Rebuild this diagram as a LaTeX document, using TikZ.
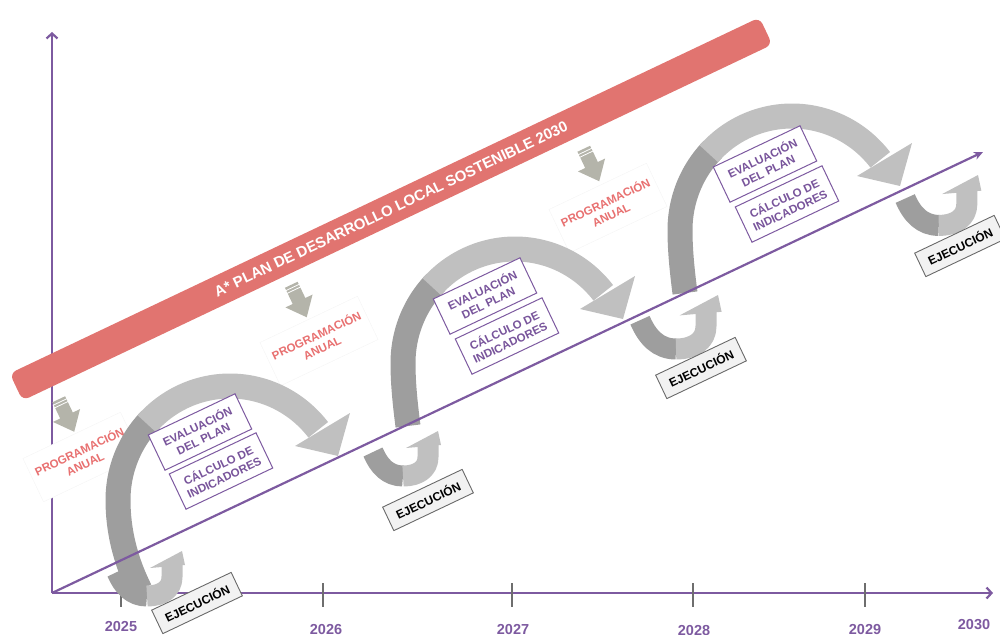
\documentclass[tikz,border=0pt]{standalone}
\usepackage{fontspec}
\setmainfont{Liberation Sans}
\usetikzlibrary{arrows.meta}
\definecolor{purp}{RGB}{125,90,160}
\definecolor{purptext}{RGB}{120,84,155}
\definecolor{bannerred}{RGB}{225,116,112}
\definecolor{progred}{RGB}{232,112,112}
\definecolor{arcdark}{RGB}{158,158,158}
\definecolor{arclight}{RGB}{192,192,192}
\definecolor{smallarrow}{RGB}{180,180,170}
\definecolor{ejefill}{RGB}{242,242,242}
\definecolor{ejedraw}{RGB}{105,105,105}
\definecolor{tickgray}{RGB}{110,110,110}

\newcommand{\UArrow}[3]{%
  \begin{scope}[shift={(#1,#2)},scale=#3]
    \draw[uband,draw=arcdark] (-65,21) .. controls (-59,35) and (-50,45) .. (-35,45);
    \draw[uband,draw=arclight] (-35,45) .. controls (-20,45) and (-10,38) .. (-10,26) -- (-10,14);
    \fill[arclight] (-32,17) -- (0,0) -- (3,14) -- cycle;
  \end{scope}}
% #1,#2 shift; #3 = 1 for a long column reaching down to the axis
\newcommand{\BigArc}[3]{%
  \begin{scope}[shift={(#1,#2)}]
    \ifnum#3=1
      \draw[bigband,draw=arcdark] (140,590) .. controls (125,560) and (118,530) .. (118,500)
        -- plot[domain=180:225,samples=25,variable=\t] ({230+112*cos(\t)},{500+114*sin(\t)});
    \else
      \draw[bigband,draw=arcdark] (123,563) .. controls (120,540) and (118,520) .. (118,500)
        -- plot[domain=180:225,samples=25,variable=\t] ({230+112*cos(\t)},{500+114*sin(\t)});
    \fi
    \draw[bigband,draw=arclight] plot[domain=222:322,samples=50,variable=\t] ({230+112*cos(\t)},{500+114*sin(\t)});
    \fill[arclight] (295,446) -- (338,456) -- (350,413) -- cycle;
  \end{scope}}
\newcommand{\ProgArrow}[2]{%
  \begin{scope}[shift={(#1,#2)},rotate=25.4]
    \fill[smallarrow] (-7,-18) -- (7,-18) -- (7,0) -- (15,0) -- (0,18) -- (-15,0) -- (-7,0) -- cycle;
    \draw[white,line width=0.8pt] (-8,-15) -- (8,-15) (-8,-12) -- (8,-12);
  \end{scope}}

\begin{document}
\begin{tikzpicture}[x=1pt,y=-1pt,
  axisline/.style={draw=purp,line width=2.2pt},
  tickline/.style={draw=tickgray,line width=1.8pt},
  bigband/.style={line width=25pt,line join=round},
  uband/.style={line width=21pt,line join=round},
  yearlbl/.style={text=purp,font=\fontsize{14.5}{16}\selectfont\bfseries,inner sep=0pt},
  bannerbox/.style={fill=bannerred,rounded corners=7pt,minimum width=830,minimum height=30,
    rotate=25.4,text=white,font=\fontsize{15}{18}\selectfont\bfseries,inner sep=0pt},
  progbox/.style={draw=black!4,fill=white,text=progred,font=\fontsize{11.5}{13.5}\selectfont\bfseries,
    align=center,minimum width=108,minimum height=48,rotate=25.4,inner sep=1pt},
  evalbox/.style={draw=purp,line width=1pt,fill=white,text=purptext,
    font=\fontsize{11.5}{13.5}\selectfont\bfseries,align=center,minimum width=96,minimum height=39,
    rotate=25.4,inner sep=1pt},
  ejebox/.style={draw=ejedraw,line width=0.9pt,fill=ejefill,text=black,
    font=\fontsize{12}{14}\selectfont\bfseries,minimum width=88,minimum height=26,rotate=25.4,inner sep=1pt}
]
\useasboundingbox (0,0) rectangle (1000,634);

% axes
\coordinate (O) at (52,593);
\coordinate (Ytop) at (52,32);
\coordinate (Xend) at (993,593);
\coordinate (Dend) at (983,152);
\draw[axisline,-{Straight Barb[length=5pt,width=11pt]}] (O) -- (Ytop);
\draw[axisline,-{Straight Barb[length=5pt,width=11pt]}] (O) -- (Xend);
\foreach \x/\n in {121/a,323/b,512/c,693/d,865/e}{
  \coordinate (t\n1) at (\x,583);
  \coordinate (t\n2) at (\x,607);
  \draw[tickline] (t\n1) -- (t\n2);
}
\node[yearlbl] (y2025) at (121,626) {2025};
\node[yearlbl] (y2026) at (326,629) {2026};
\node[yearlbl] (y2027) at (513,629) {2027};
\node[yearlbl] (y2028) at (694,630) {2028};
\node[yearlbl] (y2029) at (865,629) {2029};
\node[yearlbl] (y2030) at (974,625) {2030};

% banner
\node[bannerbox] (plan) at (391,209) {A* PLAN DE DESARROLLO LOCAL SOSTENIBLE 2030};

% programacion anual
\node[progbox] (prog1) at (82,457) {PROGRAMACIÓN\\ANUAL};
\node[progbox] (prog2) at (319,341) {PROGRAMACIÓN\\ANUAL};
\node[progbox] (prog3) at (608,208) {PROGRAMACIÓN\\ANUAL};
\ProgArrow{66.5}{415.5}
\ProgArrow{299}{301}
\ProgArrow{591.5}{165}

% big loops
\BigArc{0}{0}{1}
\BigArc{285}{-137}{0}
\BigArc{562}{-270}{0}

% small U arrows
\UArrow{182}{551}{1.0}
\UArrow{438}{431}{1.0}
\UArrow{718}{295}{1.2}
\UArrow{978}{175}{1.12}

% diagonal
\draw[axisline,-{Stealth[length=9pt,width=8pt]}] (O) -- (Dend);

% evaluation boxes
\node[evalbox] (eval1) at (200,432) {EVALUACIÓN\\DEL PLAN};
\node[evalbox] (calc1) at (221,471) {CÁLCULO DE\\INDICADORES};
\node[evalbox] (eval2) at (485,296) {EVALUACIÓN\\DEL PLAN};
\node[evalbox] (calc2) at (507,336) {CÁLCULO DE\\INDICADORES};
\node[evalbox] (eval3) at (765,164) {EVALUACIÓN\\DEL PLAN};
\node[evalbox] (calc3) at (787,204) {CÁLCULO DE\\INDICADORES};

% ejecucion boxes
\node[ejebox] (eje1) at (197,603) {EJECUCIÓN};
\node[ejebox] (eje2) at (428,500) {EJECUCIÓN};
\node[ejebox] (eje3) at (701,368) {EJECUCIÓN};
\node[ejebox] (eje4) at (960,246) {EJECUCIÓN};
\end{tikzpicture}
\end{document}
